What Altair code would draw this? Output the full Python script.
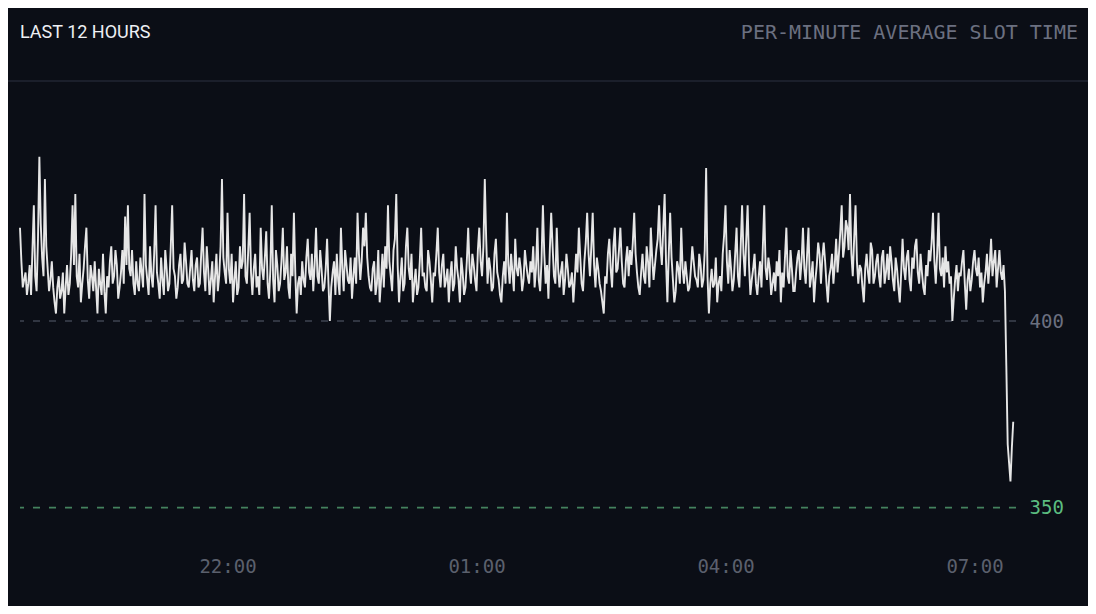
import altair as alt
import pandas as pd

# Per-minute average slot time (ms), one value per minute from 19:30 to 07:28
slot_ms = [
    425, 416, 409, 411, 413, 407, 410, 415, 407, 419, 431, 412, 408, 422, 444, 426, 417, 412, 438, 420,
    414, 408, 411, 416, 409, 405, 402, 409, 412, 406, 408, 413, 402, 409, 415, 407, 410, 418, 431, 415,
    434, 412, 409, 418, 405, 410, 414, 420, 425, 411, 406, 415, 412, 408, 416, 409, 402, 414, 410, 407,
    418, 408, 402, 412, 409, 416, 420, 410, 412, 419, 415, 406, 409, 413, 419, 410, 428, 415, 431, 414,
    412, 419, 410, 407, 416, 410, 408, 417, 413, 409, 434, 415, 411, 407, 420, 412, 409, 418, 431, 413,
    410, 406, 417, 411, 407, 419, 414, 408, 410, 420, 431, 414, 412, 406, 409, 415, 418, 410, 411, 421,
    416, 410, 409, 414, 419, 411, 408, 415, 417, 409, 410, 418, 425, 413, 408, 420, 414, 407, 411, 416,
    405, 412, 418, 408, 412, 420, 438, 417, 413, 410, 429, 414, 410, 418, 405, 411, 416, 407, 409, 420,
    414, 416, 434, 412, 410, 419, 429, 413, 407, 414, 418, 409, 412, 407, 425, 414, 411, 417, 424, 410,
    406, 414, 431, 411, 405, 419, 415, 408, 410, 416, 425, 411, 413, 420, 409, 406, 418, 412, 429, 413,
    402, 410, 412, 407, 416, 411, 409, 417, 422, 413, 411, 418, 408, 415, 425, 412, 410, 419, 414, 408,
    409, 414, 422, 410, 400, 409, 413, 416, 407, 418, 411, 407, 425, 414, 408, 419, 415, 411, 410, 417,
    406, 412, 417, 410, 429, 418, 411, 416, 425, 420, 429, 417, 412, 409, 408, 414, 416, 407, 410, 419,
    405, 411, 418, 409, 420, 414, 431, 416, 412, 408, 419, 422, 434, 415, 405, 412, 417, 408, 410, 420,
    425, 414, 411, 418, 405, 410, 414, 407, 409, 416, 425, 412, 413, 409, 408, 419, 416, 411, 405, 413,
    412, 418, 425, 413, 409, 415, 418, 409, 411, 414, 405, 412, 416, 408, 410, 420, 414, 411, 405, 417,
    413, 407, 409, 416, 425, 414, 410, 418, 415, 411, 408, 419, 425, 416, 412, 420, 438, 422, 410, 417,
    414, 408, 409, 418, 422, 413, 411, 407, 405, 412, 416, 410, 429, 415, 410, 418, 413, 408, 422, 414,
    412, 417, 414, 408, 411, 419, 415, 412, 410, 416, 413, 420, 409, 414, 425, 411, 408, 416, 431, 418,
    410, 415, 406, 419, 429, 420, 412, 410, 425, 414, 409, 413, 416, 407, 411, 418, 414, 409, 410, 413,
    405, 411, 418, 413, 425, 417, 410, 408, 416, 421, 429, 418, 412, 420, 429, 415, 409, 417, 414, 410,
    408, 405, 402, 412, 410, 418, 422, 414, 409, 420, 425, 413, 414, 419, 425, 416, 410, 409, 416, 420,
    412, 419, 415, 421, 429, 418, 413, 409, 407, 413, 418, 412, 410, 420, 416, 409, 425, 417, 411, 415,
    419, 422, 431, 420, 415, 425, 434, 416, 405, 418, 429, 417, 411, 405, 408, 416, 414, 410, 425, 414,
    410, 416, 412, 408, 409, 414, 420, 416, 412, 411, 409, 418, 415, 409, 411, 419, 441, 412, 402, 410,
    414, 409, 410, 417, 405, 410, 412, 408, 418, 423, 431, 416, 410, 419, 414, 408, 411, 418, 425, 412,
    409, 420, 431, 418, 412, 422, 431, 415, 407, 411, 414, 418, 410, 407, 412, 416, 409, 420, 431, 414,
    411, 417, 414, 407, 410, 413, 408, 416, 412, 419, 405, 413, 409, 417, 425, 412, 410, 419, 414, 408,
    408, 413, 417, 419, 411, 416, 425, 414, 410, 418, 425, 409, 412, 416, 405, 411, 415, 421, 418, 410,
    417, 421, 416, 410, 405, 412, 414, 418, 410, 415, 422, 413, 418, 424, 431, 417, 420, 427, 425, 419,
    434, 418, 412, 422, 431, 416, 410, 415, 414, 409, 405, 414, 418, 413, 410, 421, 419, 410, 412, 416,
    418, 412, 409, 417, 419, 410, 413, 418, 411, 420, 416, 411, 408, 417, 414, 409, 405, 413, 422, 414,
    411, 417, 419, 411, 408, 417, 414, 420, 422, 413, 410, 418, 413, 409, 407, 415, 412, 419, 416, 421,
    429, 416, 410, 418, 429, 414, 412, 417, 409, 420, 413, 416, 410, 412, 400, 406, 411, 415, 408, 413,
    412, 416, 419, 410, 403, 411, 414, 408, 411, 416, 419, 414, 412, 417, 409, 413, 405, 410, 413, 418,
    410, 415, 422, 412, 416, 419, 409, 414, 419, 413, 411, 415, 408, 388, 367, 362, 357, 366, 373,
]
times = pd.date_range("2024-01-01 19:30", periods=len(slot_ms), freq="1min")
times_str = [t.strftime("%Y-%m-%dT%H:%M:%S") for t in times]

ref_values = [400, 350]
ref_colors = ["#3f4451", "#44825e"]
tick_hours = [(1, 22), (2, 1), (2, 4), (2, 7)]

BG = "#0b0e16"
MONO = "DejaVu Sans Mono"
W, H = 996, 448

line_df = pd.DataFrame({"time": times_str, "ms": slot_ms})
ref_df = pd.DataFrame({"v": ref_values, "c": ref_colors})

x_scale = alt.Scale(domain=[alt.DateTime(year=2024, month=1, date=1, hours=19, minutes=30),
                            alt.DateTime(year=2024, month=1, date=2, hours=7, minutes=30)])
y_scale = alt.Scale(domain=[340, 460])

y_axis = alt.Axis(orient="right", values=ref_values, grid=False, domain=False, ticks=False,
                  labelFont=MONO, labelFontSize=19, labelPadding=13,
                  labelColor={"condition": {"test": "datum.value == 350", "value": "#5cbd80"},
                              "value": "#6b7080"})

line = alt.Chart(line_df).mark_line(color="#e6e6e6", strokeWidth=1.9).encode(
    x=alt.X("time:T", scale=x_scale, title=None,
            axis=alt.Axis(values=[alt.DateTime(year=2024, month=1, date=d, hours=h) for d, h in tick_hours],
                          format="%H:%M", grid=False, domain=False, ticks=False,
                          labelFont=MONO, labelFontSize=19, labelColor="#5b606d",
                          labelPadding=12)),
    y=alt.Y("ms:Q", scale=y_scale, title=None, axis=y_axis),
)

refs = alt.Chart(ref_df).mark_rule(strokeWidth=1.6, strokeDash=[7, 9]).encode(
    y=alt.Y("v:Q", scale=y_scale, title=None, axis=y_axis),
    stroke=alt.Stroke("c:N", scale=None),
)

sep = alt.Chart(pd.DataFrame({"k": [0]})).mark_rule(color="#1b1f2b", strokeWidth=2).encode(
    x=alt.value(-12), x2=alt.value(1068), y=alt.value(-16)
)

left_title = alt.Chart(pd.DataFrame({"t": ["LAST 12 HOURS"]})).mark_text(
    font="Roboto", fontSize=18, color="#eef0f4", align="left", baseline="middle"
).encode(text="t:N", x=alt.value(0), y=alt.value(-64))

right_title = alt.Chart(pd.DataFrame({"t": ["PER-MINUTE AVERAGE SLOT TIME"]})).mark_text(
    font=MONO, fontSize=20, color="#6b7080", align="right", baseline="middle"
).encode(text="t:N", x=alt.value(1058), y=alt.value(-64))

chart = alt.layer(refs, line, sep, left_title, right_title).properties(
    width=W, height=H,
    background=BG,
    padding={"left": 12, "top": 89, "right": 72, "bottom": 61},
    autosize=alt.AutoSizeParams(type="none"),
).configure_view(stroke=None)

chart.save("out.html", embed_options={"renderer": "svg", "actions": False})
